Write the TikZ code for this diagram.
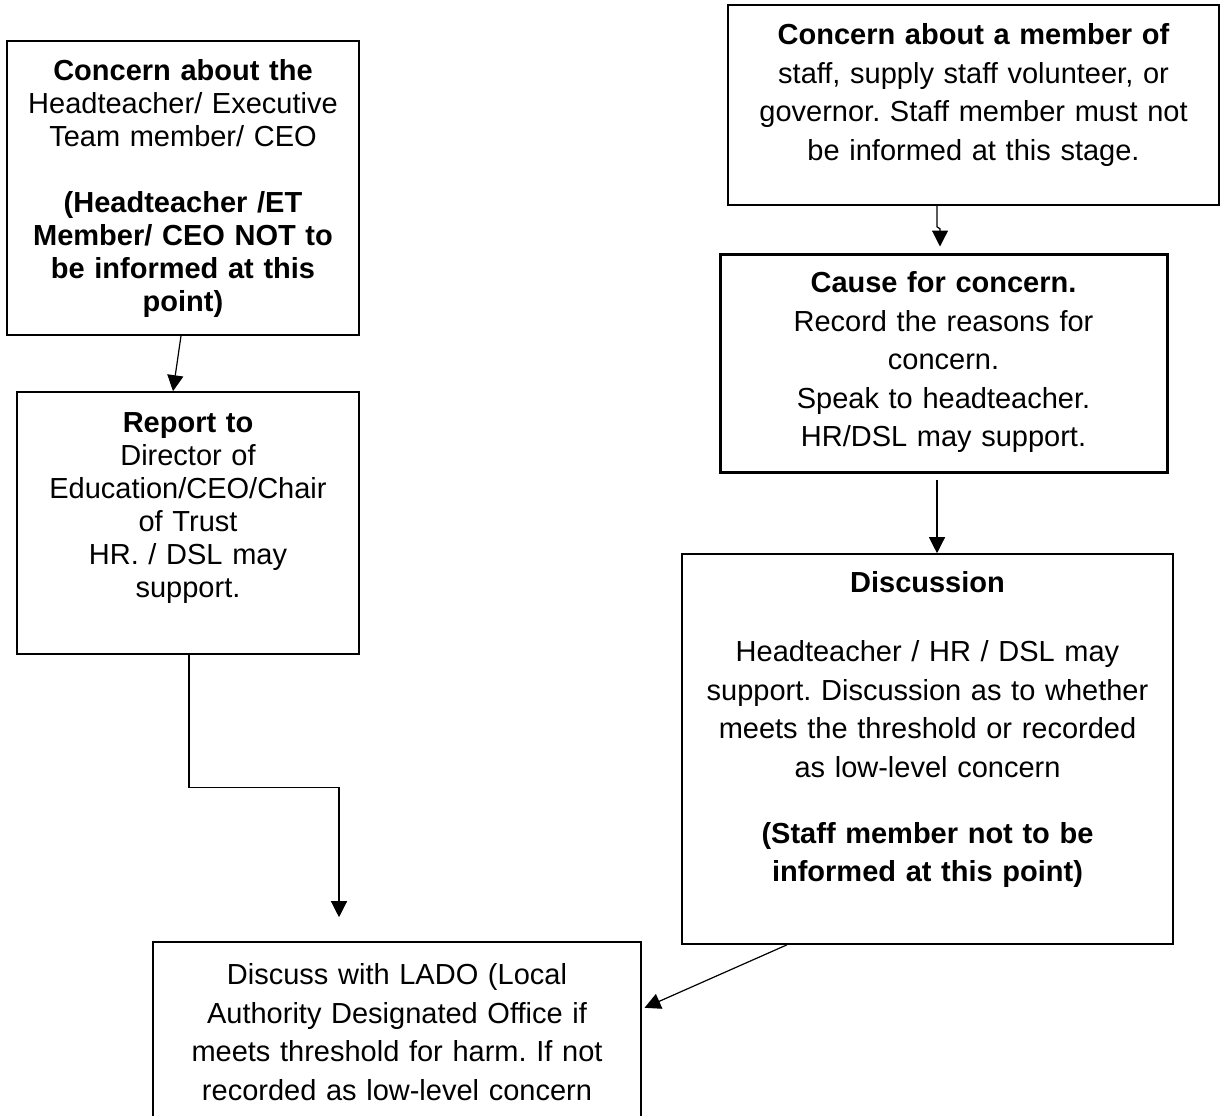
\documentclass[tikz,border=0pt]{standalone}
\usepackage{fontspec}
\setmainfont{Liberation Sans}
\usetikzlibrary{arrows.meta,positioning}

\newcommand{\tightfont}{\fontsize{14.5}{16.5}\selectfont}
\newcommand{\loosefont}{\fontsize{14.5}{19.25}\selectfont}
\frenchspacing
\tikzset{
  box/.style={draw, line width=0.8pt, inner sep=0pt},
  txt/.style={align=center, inner sep=0pt, text width=#1},
  arr/.style={-{Triangle[length=8pt,width=8pt]}, line width=0.6pt},
}

\begin{document}
\begin{tikzpicture}[x=0.5pt, y=-0.5pt]
    \useasboundingbox (0,0) rectangle (1224,1115);
    \clip (0,0) rectangle (1224,1115);

    % 左上：对校长的担忧
    \node[box, minimum width=176pt, minimum height=147pt] (head) at (183,188) {};
    \node[txt=172pt, font=\tightfont, below=9.5pt of head.north] (headTxt) {%
        \textbf{Concern about the}\\ Headteacher/ Executive\\ Team member/ CEO\\[16.5pt]
        \textbf{(Headteacher /ET\\ Member/ CEO NOT to\\ be informed at this\\ point)}};

    % 左侧：上报
    \node[box, minimum width=171pt, minimum height=131pt] (report) at (188,523) {};
    \node[txt=168pt, font=\tightfont, below=10.5pt of report.north] (reportTxt) {%
        \textbf{Report to}\\ Director of\\ Education/CEO/Chair\\ of Trust\\ HR. / DSL may\\ support.};

    % 右上：对员工的担忧
    \node[box, minimum width=245.5pt, minimum height=100pt] (staff) at (973.5,105) {};
    \node[txt=240pt, font=\loosefont, below=9.5pt of staff.north] (staffTxt) {%
        \textbf{Concern about a member of}\\ staff, supply staff volunteer, or\\
        governor. Staff member must not\\ be informed at this stage.};

    % 右侧：记录原因（粗框）
    \node[box, line width=1.5pt, minimum width=223.5pt, minimum height=109pt] (cause) at (943.5,363) {};
    \node[txt=220pt, font=\loosefont, below=9.5pt of cause.north] (causeTxt) {%
        \textbf{Cause for concern.}\\ Record the reasons for\\ concern.\\
        Speak to headteacher.\\ HR/DSL may support.};

    % 右侧：讨论
    \node[box, minimum width=245.5pt, minimum height=195pt] (discuss) at (927.5,749) {};
    \node[txt=240pt, font=\loosefont, below=9pt of discuss.north] (discussTxt) {%
        \textbf{Discussion}\\[15.25pt] Headteacher / HR / DSL may\\
        support. Discussion as to whether\\ meets the threshold or recorded\\
        as low-level concern\\[13.75pt]
        \textbf{(Staff member not to be\\ informed at this point)}};

    % 底部：LADO
    \node[box, minimum width=244pt, minimum height=95pt] (lado) at (397,1037) {};
    \node[txt=240pt, font=\loosefont, below=11pt of lado.north] (ladoTxt) {%
        Discuss with LADO (Local\\ Authority Designated Office if\\
        meets threshold for harm. If not\\ recorded as low-level concern};

    % 箭头
    \draw[arr] ([xshift=-1pt]head.south) -- ([xshift=-7.5pt]report.north);
    \draw[arr, shorten >=12pt] ([xshift=0.5pt]report.south) -- ++(0,133)
        -| ([xshift=-29pt]lado.north);
    \draw[arr, shorten >=3pt] ([xshift=-18.25pt]staff.south) -- ++(0,21) -- ++(3,2)
        -- ([xshift=-1.75pt]cause.north);
    \draw[arr, shorten <=3pt] ([xshift=-3.25pt]cause.south) -- ([xshift=4.75pt]discuss.north);
    \draw[arr, shorten >=1.5pt] ([xshift=-70.25pt]discuss.south) -- ([yshift=14pt]lado.east);
\end{tikzpicture}
\end{document}
